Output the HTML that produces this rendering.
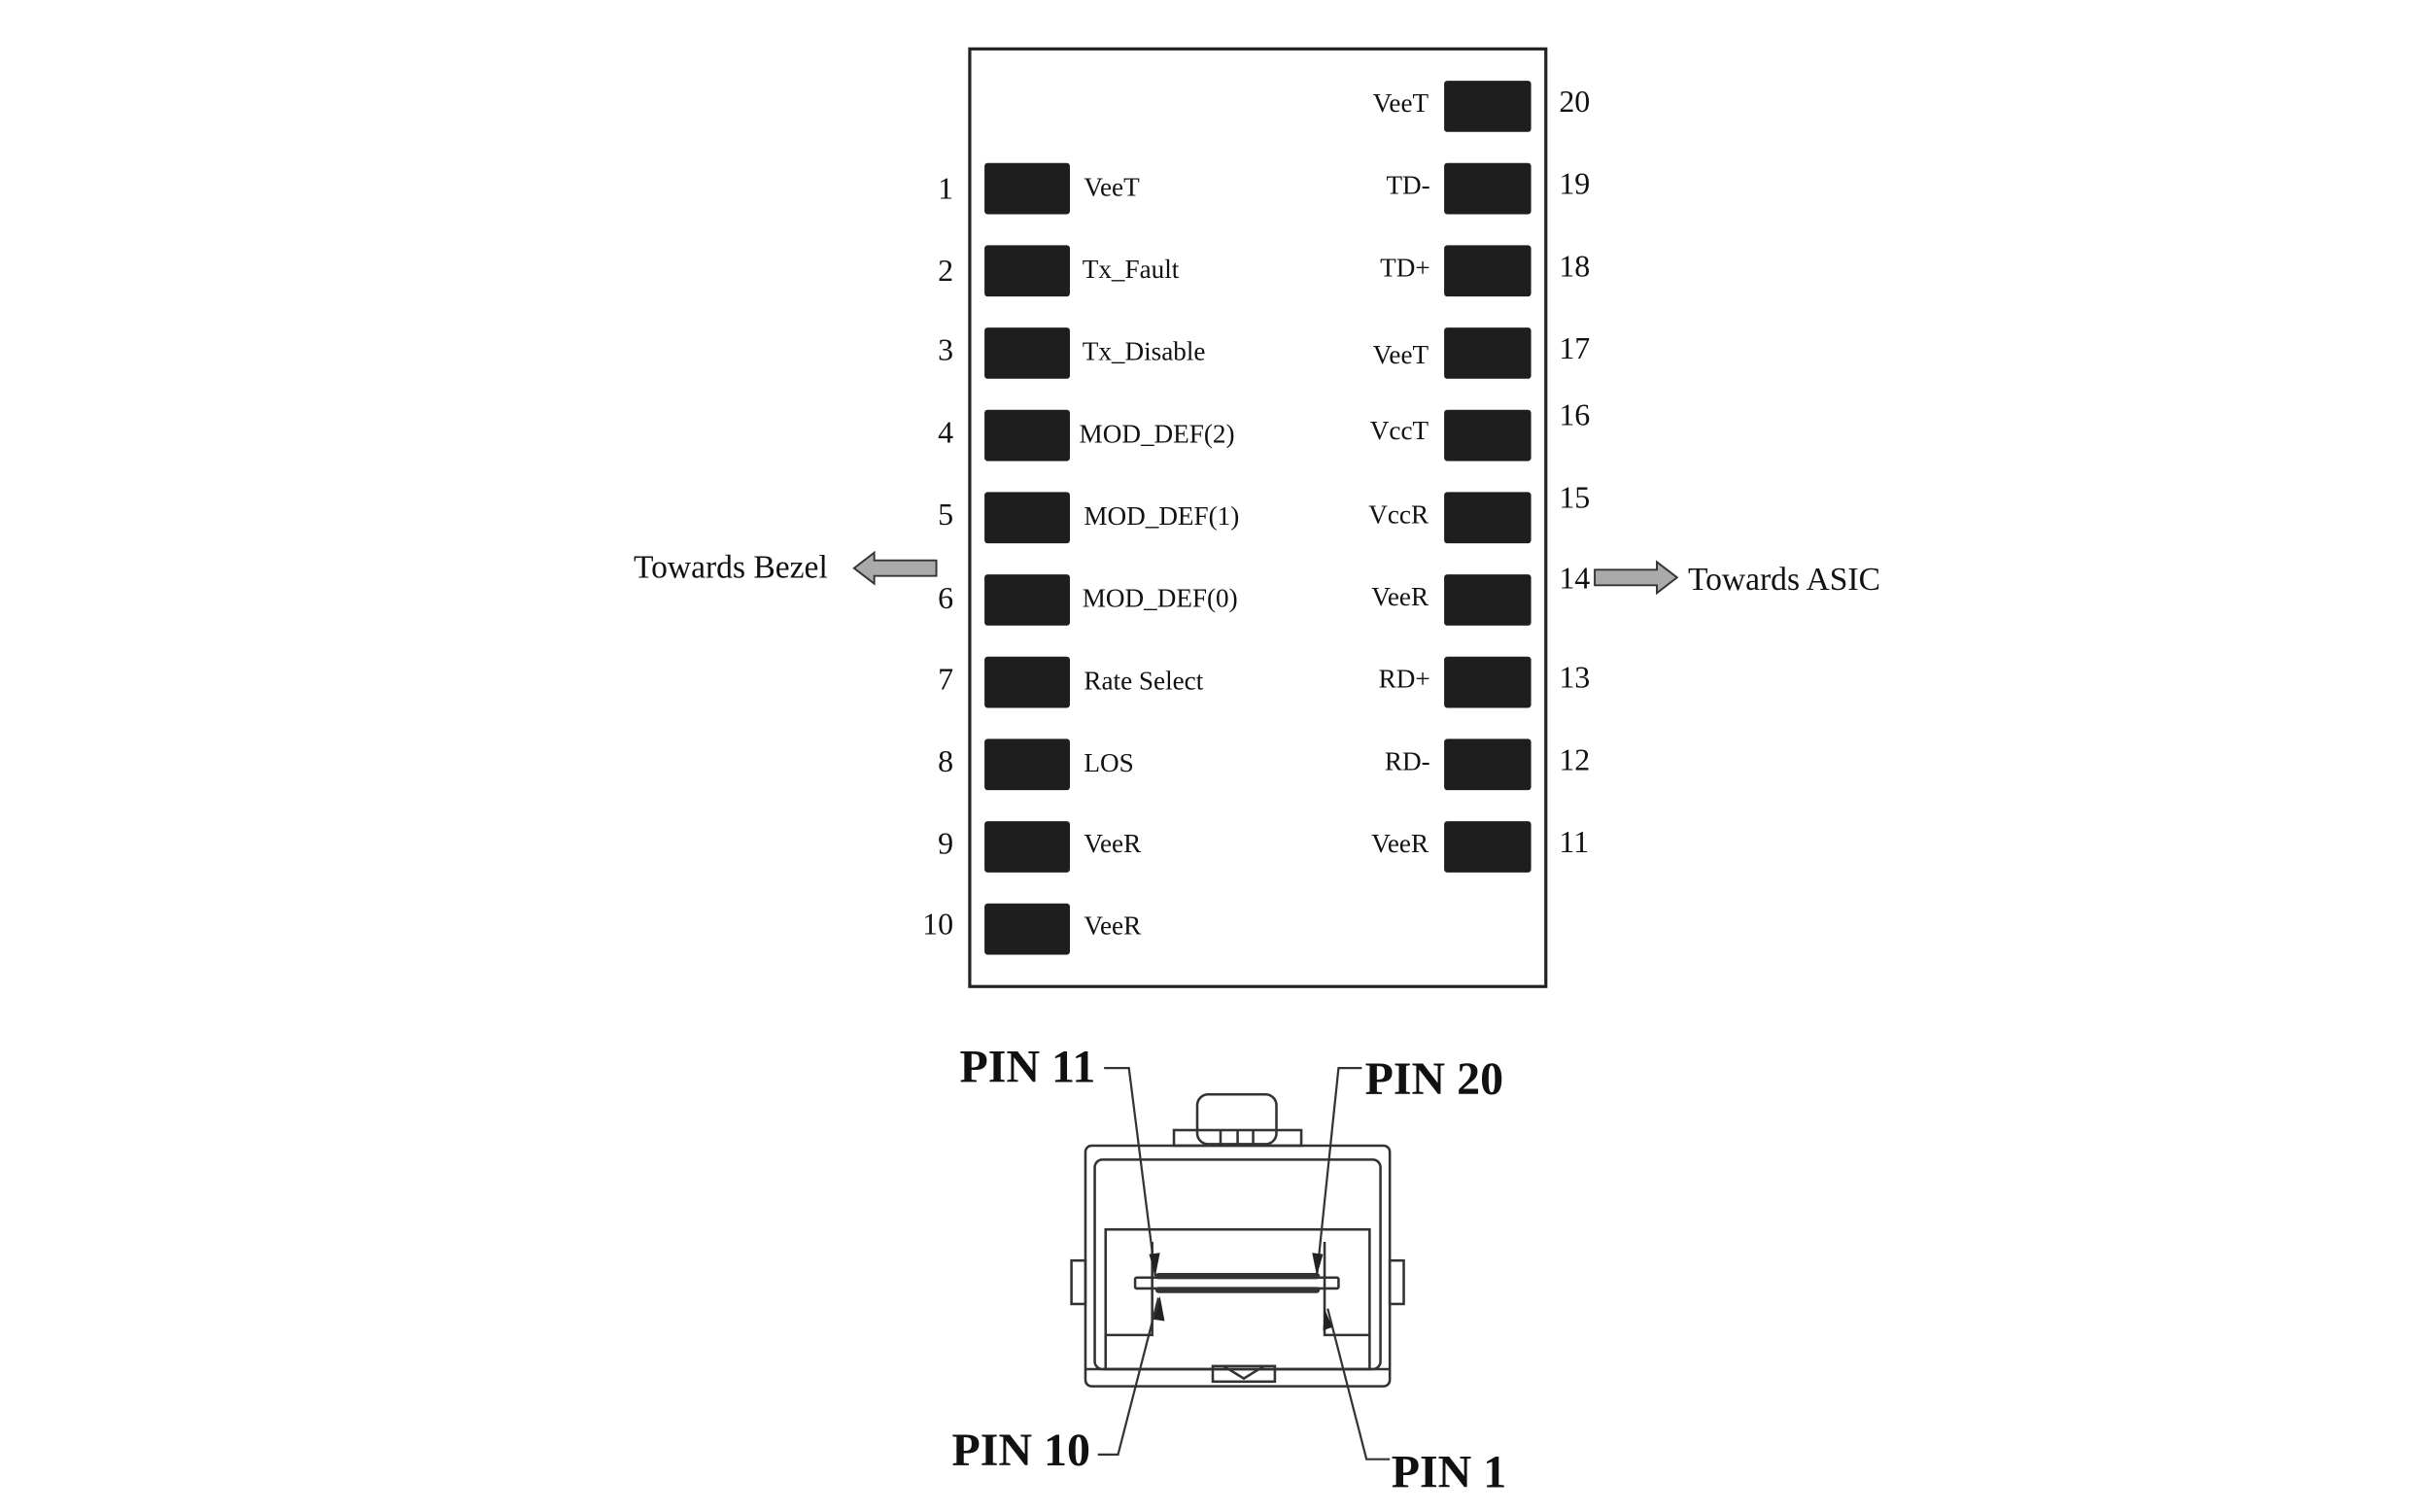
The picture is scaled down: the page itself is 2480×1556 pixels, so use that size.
<!DOCTYPE html>
<html><head><meta charset="utf-8"><style>
html,body{margin:0;padding:0;background:#fff;}
svg{display:block;}
text{font-family:"Liberation Serif",serif;fill:#111;}
</style></head><body>
<svg width="2480" height="1556" viewBox="0 0 1552 974" preserveAspectRatio="none" xmlns="http://www.w3.org/2000/svg">
<rect x="0" y="0" width="1552" height="974" fill="#fff"/>
<rect x="624.5" y="31.5" width="371" height="604" fill="none" stroke="#222" stroke-width="2"/>
<g fill="#1e1e1e">
<rect x="634" y="105" width="55" height="33" rx="2"/>
<rect x="634" y="158" width="55" height="33" rx="2"/>
<rect x="634" y="211" width="55" height="33" rx="2"/>
<rect x="634" y="264" width="55" height="33" rx="2"/>
<rect x="634" y="317" width="55" height="33" rx="2"/>
<rect x="634" y="370" width="55" height="33" rx="2"/>
<rect x="634" y="423" width="55" height="33" rx="2"/>
<rect x="634" y="476" width="55" height="33" rx="2"/>
<rect x="634" y="529" width="55" height="33" rx="2"/>
<rect x="634" y="582" width="55" height="33" rx="2"/>
<rect x="930" y="52" width="56" height="33" rx="2"/>
<rect x="930" y="105" width="56" height="33" rx="2"/>
<rect x="930" y="158" width="56" height="33" rx="2"/>
<rect x="930" y="211" width="56" height="33" rx="2"/>
<rect x="930" y="264" width="56" height="33" rx="2"/>
<rect x="930" y="317" width="56" height="33" rx="2"/>
<rect x="930" y="370" width="56" height="33" rx="2"/>
<rect x="930" y="423" width="56" height="33" rx="2"/>
<rect x="930" y="476" width="56" height="33" rx="2"/>
<rect x="930" y="529" width="56" height="33" rx="2"/>
</g>
<g font-size="20" text-anchor="end">
<text x="614" y="128">1</text><text x="614" y="181">2</text><text x="614" y="232">3</text>
<text x="614" y="285">4</text><text x="614" y="338">5</text><text x="614" y="392">6</text>
<text x="614" y="444">7</text><text x="614" y="497">8</text><text x="614" y="550">9</text>
<text x="614" y="602">10</text>
</g>
<g font-size="20">
<text x="1004" y="72">20</text><text x="1004" y="125">19</text><text x="1004" y="178">18</text>
<text x="1004" y="231">17</text><text x="1004" y="274">16</text><text x="1004" y="327">15</text>
<text x="1004" y="379">14</text><text x="1004" y="443">13</text><text x="1004" y="496">12</text>
<text x="1004" y="549">11</text>
</g>
<g font-size="17">
<text x="698" y="126">VeeT</text><text x="697" y="179">Tx_Fault</text><text x="697" y="232">Tx_Disable</text>
<text x="695" y="285">MOD_DEF(2)</text><text x="698" y="338">MOD_DEF(1)</text><text x="697" y="391">MOD_DEF(0)</text>
<text x="698" y="444">Rate Select</text><text x="698" y="497">LOS</text><text x="698" y="549">VeeR</text>
<text x="698" y="602">VeeR</text>
</g>
<g font-size="17" text-anchor="end">
<text x="920" y="72">VeeT</text><text x="921" y="125">TD-</text><text x="921" y="178">TD+</text>
<text x="920" y="234">VeeT</text><text x="920" y="283">VccT</text><text x="920" y="337">VccR</text>
<text x="920" y="390">VeeR</text><text x="921" y="443">RD+</text><text x="921" y="496">RD-</text>
<text x="920" y="549">VeeR</text>
</g>
<text x="408" y="372" font-size="21">Towards Bezel</text>
<polygon points="550,366 563,356 563,361 603,361 603,371 563,371 563,376" fill="#aaa" stroke="#333" stroke-width="1.2"/>
<polygon points="1027,367 1067,367 1067,362 1080,372 1067,382 1067,377 1027,377" fill="#aaa" stroke="#333" stroke-width="1.2"/>
<text x="1087" y="380" font-size="21">Towards ASIC</text>
<!-- connector -->
<g fill="none" stroke="#333" stroke-width="1.6">
<rect x="771" y="705" width="51" height="32" rx="7"/>
<rect x="756" y="728" width="82" height="10"/>
<line x1="786" y1="728" x2="786" y2="738"/><line x1="797" y1="728" x2="797" y2="738"/><line x1="807" y1="728" x2="807" y2="738"/>
<rect x="699" y="738" width="196" height="155" rx="4"/>
<rect x="705" y="747" width="184" height="135" rx="5"/>
<line x1="699" y1="882" x2="895" y2="882"/>
<rect x="712" y="792" width="170" height="90"/>
<polyline points="712,860 742,860 742,800"/>
<polyline points="882,860 853,860 853,800"/>
<rect x="690" y="812" width="9" height="28"/>
<rect x="895" y="812" width="9" height="28"/>
<rect x="781" y="880" width="40" height="10"/>
<polyline points="788,880 801,888 814,880"/>
<rect x="731" y="823" width="131" height="7" rx="1"/>
</g>
<g fill="#333">
<rect x="744" y="820" width="106" height="4" rx="2"/>
<rect x="744" y="829" width="106" height="4" rx="2"/>
</g>
<g fill="none" stroke="#333" stroke-width="1.4">
<polyline points="711,688 727,688 744,822"/>
<polyline points="877,688 862,688 848,822"/>
<polyline points="707,937 720,937 746,836"/>
<polyline points="895,940 880,940 855,843"/>
</g>
<g fill="#222">
<polygon points="744,822 740,808 747,807"/>
<polygon points="848,822 845,807 852,808"/>
<polygon points="747,835 743,850 750,851"/>
<polygon points="853,843 852,857 858,855"/>
</g>
<g font-size="30" font-weight="bold">
<text x="618" y="697">PIN 11</text>
<text x="879" y="705">PIN 20</text>
<text x="613" y="944">PIN 10</text>
<text x="896" y="958">PIN 1</text>
</g>
</svg>
</body></html>
